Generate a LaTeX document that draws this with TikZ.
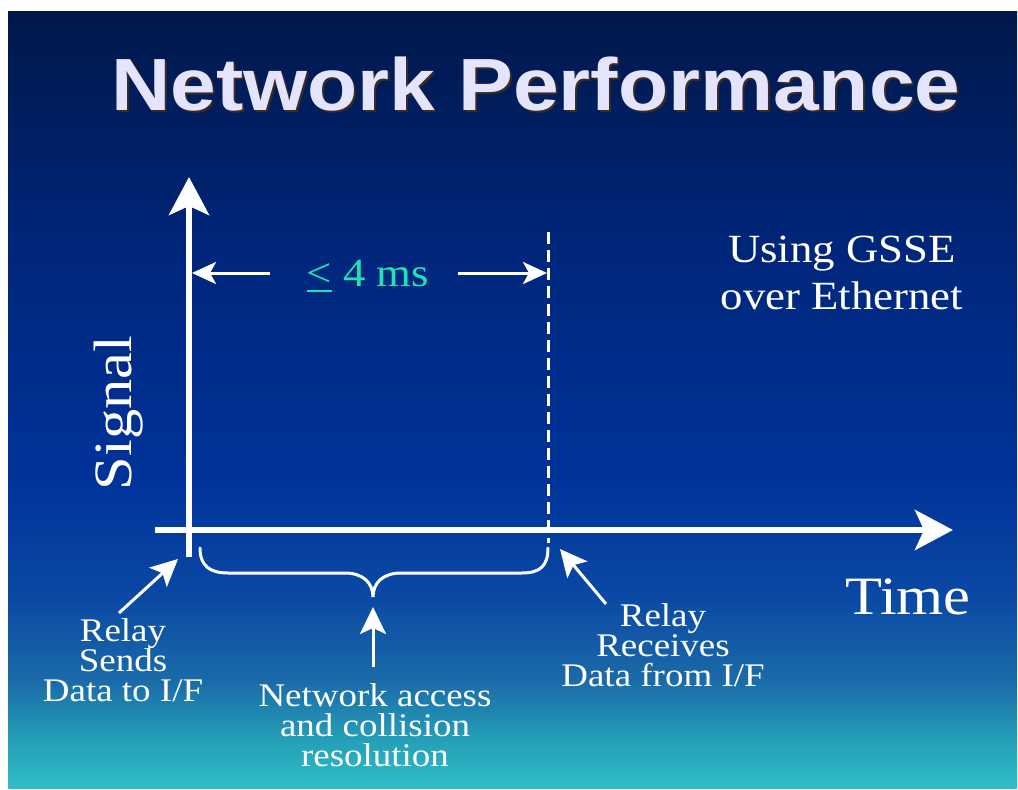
\documentclass[tikz,border=0pt]{standalone}
\usepackage{fontspec}
\usetikzlibrary{arrows.meta}
\setmainfont{Liberation Serif}[FakeStretch=1.12]
\newfontfamily\titlefont{Liberation Sans}[FakeStretch=1.11]
\definecolor{bgA}{HTML}{00184A}
\definecolor{bgB}{HTML}{00267A}
\definecolor{bgC}{HTML}{00339A}
\definecolor{bgD}{HTML}{0A48A4}
\definecolor{bgE}{HTML}{1A6AA8}
\definecolor{bgF}{HTML}{25A0B8}
\definecolor{bgG}{HTML}{30BEC6}
\definecolor{titlecol}{HTML}{E4E4FF}
\definecolor{shadowcol}{HTML}{3A2A20}
\definecolor{tealtext}{HTML}{1EE4B4}
\pgfdeclareverticalshading{slidebg}{100bp}{color(0bp)=(bgG); color(25bp)=(bgG); color(28bp)=(bgF); color(32bp)=(bgE); color(37.5bp)=(bgD); color(45bp)=(bgC); color(60bp)=(bgB); color(75bp)=(bgA); color(100bp)=(bgA)}
\newcommand\myleq{\setbox0\hbox{<}\rlap{\rule[-6pt]{\wd0}{2.6pt}}\box0}
\lineskiplimit=-100pt
\tikzset{
  axisline/.style={white, line width=6pt, -{Stealth[length=38pt,width=40pt,inset=9pt]}},
  spanarrow/.style={white, line width=3pt, -{Stealth[length=24pt,width=22pt,inset=6pt]}},
  ptrarrow/.style={white, line width=3pt, -{Stealth[length=27pt,width=26pt,inset=6pt]}},
  lbltext/.style={white, align=center, font=\fontsize{33}{30}\selectfont, inner sep=0pt},
  bigtext/.style={white, font=\fontsize{54}{60}\selectfont, inner sep=0pt},
}
\begin{document}
\begin{tikzpicture}[x=1pt,y=-1pt]
\useasboundingbox (0,0) rectangle (1018,790);
\fill[white] (0,0) rectangle (1018,790);
\shade[shading=slidebg] (8,11) rectangle (1017,788);
% title
\node[shadowcol, font=\titlefont\bfseries\fontsize{74}{80}\selectfont, inner sep=0pt] at (538,86) {Network Performance};
\node (title) [titlecol, font=\titlefont\bfseries\fontsize{74}{80}\selectfont, inner sep=0pt] at (536,84) {Network Performance};
% axes
\coordinate (ybot) at (189,557);
\coordinate (ytop) at (189,177);
\coordinate (xl) at (155,530);
\coordinate (xr) at (953,530);
\draw[axisline] (ybot) -- (ytop);
\draw[axisline] (xl) -- (xr);
% dashed line
\coordinate (dtop) at (548,232);
\coordinate (dbot) at (548,543);
\draw[white, line width=3pt, dash pattern=on 12pt off 6pt] (dtop) -- (dbot);
% span arrows
\coordinate (sl0) at (270,273);
\coordinate (sl1) at (192,273);
\coordinate (sr0) at (458,273);
\coordinate (sr1) at (547,273);
\draw[spanarrow] (sl0) -- (sl1);
\draw[spanarrow] (sr0) -- (sr1);
\node (span) [tealtext, font=\fontsize{40}{42}\selectfont, inner sep=0pt] at (368,276) {\myleq{} 4 ms};
\node (gsse) [white, align=center, font=\fontsize{40}{47}\selectfont, inner sep=0pt] at (842,273) {Using GSSE\\over Ethernet};
% axis labels
\node (signal) [bigtext, rotate=90] at (119,413) {Signal};
\node (time) [bigtext] at (908,597) {Time};
% brace
\draw[white, line width=3pt, line cap=round] (200,548) .. controls (200,566) and (210,573) .. (228,573) -- (345,573) .. controls (362,573) and (373,582) .. (373,597) .. controls (373,582) and (384,573) .. (401,573) -- (522,573) .. controls (540,573) and (548,566) .. (548,548);
% pointer arrows
\coordinate (up0) at (373,667);
\coordinate (up1) at (373,607);
\draw[ptrarrow] (up0) -- (up1);
\coordinate (ld0) at (119,613);
\coordinate (ld1) at (178,559);
\draw[ptrarrow] (ld0) -- (ld1);
\coordinate (rd0) at (606,604);
\coordinate (rd1) at (560,549);
\draw[ptrarrow] (rd0) -- (rd1);
% labels
\node (sends) [lbltext] at (123,660) {Relay\\Sends\\Data to I/F};
\node (net) [lbltext] at (375,725) {Network access\\and collision\\resolution};
\node (recv) [lbltext] at (663,645) {Relay\\Receives\\Data from I/F};
\end{tikzpicture}
\end{document}
